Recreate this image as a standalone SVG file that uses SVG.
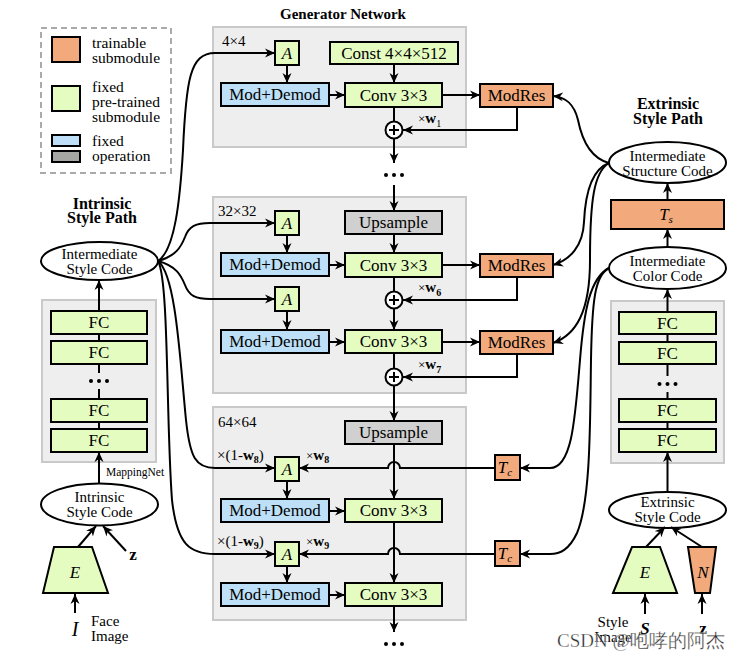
<svg xmlns="http://www.w3.org/2000/svg" width="743" height="658" viewBox="0 0 743 658">
<defs>
<marker id="ah" viewBox="0 0 10 10" refX="10" refY="5" markerWidth="10" markerHeight="10" markerUnits="userSpaceOnUse" orient="auto"><path d="M0,0.5 L10,5 L0,9.5 L3,5 z" fill="#000"/></marker>
</defs>
<style>
text{font-family:'Liberation Serif','Times New Roman',serif;fill:#000}
.b{stroke:#000;stroke-width:2}
.or{fill:#f2aa7c}
.gr{fill:#e4fcc0}
.bl{fill:#bde0f8}
.gy{fill:#d0d0d0}
.lg{fill:#a6a6a2}
.panel{fill:#eeeeee;stroke:#c9c9c9;stroke-width:2}
.lbl{font-size:17px;text-anchor:middle}
.sm{font-size:15px}
.leg{font-size:15.5px}
.el{fill:#fff;stroke:#000;stroke-width:2}
.et{font-size:15px;text-anchor:middle}
.hd{font-size:16px;font-weight:bold;text-anchor:middle}
.it{font-style:italic}
.bd{font-weight:bold}
.c{fill:none;stroke:#000;stroke-width:2}
.a{marker-end:url(#ah)}
.dot{fill:#000}
</style>
<rect width="743" height="658" fill="#fff"/>

<g id="legend">
<rect x="41" y="28" width="130" height="145" fill="none" stroke="#aaa" stroke-width="2" stroke-dasharray="6,4"/>
<rect x="52" y="37" width="28" height="25" class="or b"/>
<text x="92" y="48" class="leg">trainable</text>
<text x="92" y="63" class="leg">submodule</text>
<rect x="52" y="86" width="28" height="25" class="gr b"/>
<text x="92" y="92" class="leg">fixed</text>
<text x="92" y="107" class="leg">pre-trained</text>
<text x="92" y="122" class="leg">submodule</text>
<rect x="52" y="135" width="28" height="11" class="bl b"/>
<rect x="52" y="151" width="28" height="11" class="lg b"/>
<text x="92" y="146" class="leg">fixed</text>
<text x="92" y="161" class="leg">operation</text>
</g>

<text x="343" y="19" font-size="15" font-weight="bold" text-anchor="middle">Generator Network</text>

<g id="block1">
<rect x="213" y="27" width="253" height="120" class="panel"/>
<text x="222" y="46" class="sm">4×4</text>
<rect x="275" y="41" width="24" height="24" class="gr b"/>
<text x="287" y="59" class="lbl it">A</text>
<rect x="330" y="42" width="128" height="22" class="gr b"/>
<text x="394" y="59" class="lbl">Const 4×4×512</text>
<rect x="221" y="83" width="108" height="23" class="bl b"/>
<text x="275" y="100" class="lbl">Mod+Demod</text>
<rect x="345" y="83" width="97" height="24" class="gr b"/>
<text x="393.5" y="101" class="lbl">Conv 3×3</text>
<circle cx="394" cy="130" r="8.5" fill="#fff" class="b"/>
<path d="M389,130 H399 M394,125 V135" class="c" stroke-width="1.3"/>
<text x="418" y="123" font-size="13">×<tspan font-weight="bold" font-size="15">w</tspan><tspan font-size="10" dy="4">1</tspan></text>
</g>
<g id="modres1">
<rect x="480" y="84" width="73" height="23" class="or b"/>
<text x="516.5" y="101" class="lbl">ModRes</text>
</g>

<g id="block2">
<rect x="213" y="197" width="253" height="196" class="panel"/>
<text x="218" y="216" class="sm">32×32</text>
<rect x="275" y="211" width="24" height="24" class="gr b"/>
<text x="287" y="229" class="lbl it">A</text>
<rect x="345" y="211" width="97" height="23" class="gy b"/>
<text x="393.5" y="228" class="lbl">Upsample</text>
<rect x="221" y="253" width="108" height="23" class="bl b"/>
<text x="275" y="270" class="lbl">Mod+Demod</text>
<rect x="345" y="253" width="97" height="24" class="gr b"/>
<text x="393.5" y="271" class="lbl">Conv 3×3</text>
<circle cx="394" cy="300" r="8.5" fill="#fff" class="b"/>
<path d="M389,300 H399 M394,295 V305" class="c" stroke-width="1.3"/>
<text x="418" y="292" font-size="13">×<tspan font-weight="bold" font-size="15">w</tspan><tspan font-size="10" dy="4" font-weight="bold">6</tspan></text>
<rect x="275" y="287" width="24" height="24" class="gr b"/>
<text x="287" y="305" class="lbl it">A</text>
<rect x="221" y="330" width="108" height="23" class="bl b"/>
<text x="275" y="347" class="lbl">Mod+Demod</text>
<rect x="345" y="330" width="97" height="23" class="gr b"/>
<text x="393.5" y="347" class="lbl">Conv 3×3</text>
<circle cx="394" cy="377" r="8.5" fill="#fff" class="b"/>
<path d="M389,377 H399 M394,372 V382" class="c" stroke-width="1.3"/>
<text x="418" y="369" font-size="13">×<tspan font-weight="bold" font-size="15">w</tspan><tspan font-size="10" dy="4" font-weight="bold">7</tspan></text>
</g>
<g id="modres2">
<rect x="480" y="254" width="73" height="23" class="or b"/>
<text x="516.5" y="271" class="lbl">ModRes</text>
</g>
<g id="modres3">
<rect x="480" y="331" width="73" height="23" class="or b"/>
<text x="516.5" y="348" class="lbl">ModRes</text>
</g>

<g id="block3">
<rect x="213" y="407" width="253" height="213" class="panel"/>
<text x="218" y="427" class="sm">64×64</text>
<rect x="345" y="421" width="97" height="23" class="gy b"/>
<text x="393.5" y="438" class="lbl">Upsample</text>
<text x="217" y="460" font-size="15">×(1-<tspan font-weight="bold">w</tspan><tspan font-size="10" dy="3" font-weight="bold">8</tspan><tspan dy="-3">)</tspan></text>
<text x="306" y="460" font-size="13">×<tspan font-weight="bold" font-size="15">w</tspan><tspan font-size="10" dy="3" font-weight="bold">8</tspan></text>
<rect x="275" y="457" width="24" height="24" class="gr b"/>
<text x="287" y="475" class="lbl it">A</text>
<rect x="221" y="499" width="108" height="23" class="bl b"/>
<text x="275" y="516" class="lbl">Mod+Demod</text>
<rect x="345" y="499" width="97" height="23" class="gr b"/>
<text x="393.5" y="516" class="lbl">Conv 3×3</text>
<text x="217" y="546" font-size="15">×(1-<tspan font-weight="bold">w</tspan><tspan font-size="10" dy="3" font-weight="bold">9</tspan><tspan dy="-3">)</tspan></text>
<text x="306" y="546" font-size="13">×<tspan font-weight="bold" font-size="15">w</tspan><tspan font-size="10" dy="3" font-weight="bold">9</tspan></text>
<rect x="275" y="542" width="24" height="24" class="gr b"/>
<text x="287" y="560" class="lbl it">A</text>
<rect x="221" y="583" width="108" height="23" class="bl b"/>
<text x="275" y="600" class="lbl">Mod+Demod</text>
<rect x="345" y="583" width="97" height="23" class="gr b"/>
<text x="393.5" y="600" class="lbl">Conv 3×3</text>
</g>
<g id="tc1">
<rect x="495" y="455" width="25" height="25" class="or b"/>
<text x="505" y="473" class="lbl it" font-size="16">T<tspan font-size="11" dy="3">c</tspan></text>
</g>
<g id="tc2">
<rect x="495" y="541" width="25" height="25" class="or b"/>
<text x="505" y="559" class="lbl it" font-size="16">T<tspan font-size="11" dy="3">c</tspan></text>
</g>

<g id="intrinsic-path">
<text x="102" y="209" class="hd">Intrinsic</text>
<text x="102" y="223" class="hd">Style Path</text>
</g>
<g id="intermediate-style-code">
<ellipse cx="99.5" cy="261" rx="58.5" ry="19" class="el"/>
<text x="99.5" y="259" class="et">Intermediate</text>
<text x="99.5" y="274" class="et">Style Code</text>
</g>
<g id="mapping-net">
<rect x="42" y="300" width="114" height="162" class="panel"/>
<rect x="51" y="311" width="96" height="23" class="gr b"/>
<text x="99" y="328" class="lbl">FC</text>
<rect x="51" y="341" width="96" height="23" class="gr b"/>
<text x="99" y="358" class="lbl">FC</text>
<circle cx="91" cy="381" r="2" class="dot"/><circle cx="99" cy="381" r="2" class="dot"/><circle cx="107" cy="381" r="2" class="dot"/>
<rect x="51" y="399" width="96" height="23" class="gr b"/>
<text x="99" y="416" class="lbl">FC</text>
<rect x="51" y="429" width="96" height="23" class="gr b"/>
<text x="99" y="446" class="lbl">FC</text>
<path d="M99,334 V341 M99,364 V373 M99,389 V399 M99,422 V429" class="c"/>
<text x="106" y="476" font-size="11.5">MappingNet</text>
</g>
<g id="intrinsic-style-code">
<ellipse cx="99.5" cy="504.5" rx="58.5" ry="21" class="el"/>
<text x="99.5" y="502" class="et">Intrinsic</text>
<text x="99.5" y="517" class="et">Style Code</text>
</g>
<g id="encoder-left">
<polygon points="54,547 92,547 108,593 43,593" class="gr b"/>
<text x="75" y="578" class="lbl it">E</text>
</g>
<text x="133" y="560" font-size="17" font-weight="bold" text-anchor="middle">z</text>
<text x="75" y="636" font-size="20" font-style="italic" text-anchor="middle">I</text>
<text x="91" y="626" font-size="15">Face</text>
<text x="91" y="641" font-size="15">Image</text>

<g id="extrinsic-path">
<text x="668" y="109" class="hd">Extrinsic</text>
<text x="668" y="124" class="hd">Style Path</text>
</g>
<g id="structure-code">
<ellipse cx="667.5" cy="162.5" rx="58.5" ry="20.5" class="el"/>
<text x="667.5" y="161" class="et">Intermediate</text>
<text x="667.5" y="176" class="et">Structure Code</text>
</g>
<g id="ts">
<rect x="611" y="200" width="113" height="29" class="or b"/>
<text x="666" y="220" class="lbl it">T<tspan font-size="11" dy="3">s</tspan></text>
</g>
<g id="color-code">
<ellipse cx="667.5" cy="268" rx="58.5" ry="21" class="el"/>
<text x="667.5" y="266" class="et">Intermediate</text>
<text x="667.5" y="281" class="et">Color Code</text>
</g>
<g id="mapping-net-right">
<rect x="611" y="301" width="113" height="162" class="panel"/>
<rect x="619" y="312" width="97" height="22" class="gr b"/>
<text x="667.5" y="329" class="lbl">FC</text>
<rect x="619" y="342" width="97" height="22" class="gr b"/>
<text x="667.5" y="359" class="lbl">FC</text>
<circle cx="659.5" cy="384" r="2" class="dot"/><circle cx="667.5" cy="384" r="2" class="dot"/><circle cx="675.5" cy="384" r="2" class="dot"/>
<rect x="619" y="399" width="97" height="23" class="gr b"/>
<text x="667.5" y="416" class="lbl">FC</text>
<rect x="619" y="429" width="97" height="23" class="gr b"/>
<text x="667.5" y="446" class="lbl">FC</text>
<path d="M667.5,334 V342 M667.5,364 V376 M667.5,392 V399 M667.5,422 V429" class="c"/>
</g>
<g id="extrinsic-style-code">
<ellipse cx="667.5" cy="510" rx="58.5" ry="18" class="el"/>
<text x="667.5" y="507" class="et">Extrinsic</text>
<text x="667.5" y="522" class="et">Style Code</text>
</g>
<g id="encoder-right">
<polygon points="632,547 660,547 677,593 613,593" class="gr b"/>
<text x="645" y="578" class="lbl it">E</text>
</g>
<g id="noise-net">
<polygon points="688,547 716,547 710,593 695,593" class="or b"/>
<text x="703" y="578" class="lbl it">N</text>
</g>
<text x="613" y="627" font-size="15" text-anchor="middle">Style</text>
<text x="613" y="642" font-size="15" text-anchor="middle">Image</text>
<text x="645" y="634" font-size="17" font-weight="bold" font-style="italic" text-anchor="middle">S</text>
<text x="703" y="634" font-size="17" font-weight="bold" text-anchor="middle">z</text>

<g id="connectors">
<!-- block1 -->
<path d="M287,65 V83" class="c a"/>
<path d="M329,95 H345" class="c a"/>
<path d="M394,64 V83" class="c a"/>
<path d="M442,95 H480" class="c a"/>
<path d="M394,107 V121.5" class="c"/>
<path d="M517,107 V130 H403" class="c a"/>
<path d="M394,138.5 V163" class="c a"/>
<circle cx="386" cy="175" r="2" class="dot"/><circle cx="394" cy="175" r="2" class="dot"/><circle cx="402" cy="175" r="2" class="dot"/>
<path d="M394,185 V211" class="c a"/>
<!-- block2 -->
<path d="M287,235 V253" class="c a"/>
<path d="M329,265 H345" class="c a"/>
<path d="M394,234 V253" class="c a"/>
<path d="M442,265 H480" class="c a"/>
<path d="M394,277 V291.5" class="c"/>
<path d="M517,277 V300 H403" class="c a"/>
<path d="M394,308.5 V330" class="c a"/>
<path d="M287,311 V330" class="c a"/>
<path d="M329,342 H345" class="c a"/>
<path d="M442,342 H480" class="c a"/>
<path d="M394,353 V368.5" class="c"/>
<path d="M517,354 V377 H403" class="c a"/>
<path d="M394,385.5 V421" class="c a"/>
<!-- block3 -->
<path d="M394,444 V499" class="c a"/>
<path d="M287,481 V499" class="c a"/>
<path d="M329,511 H345" class="c a"/>
<path d="M394,522 V583" class="c a"/>
<path d="M287,566 V583" class="c a"/>
<path d="M329,595 H345" class="c a"/>
<path d="M394,606 V632" class="c a"/>
<circle cx="386" cy="644" r="2" class="dot"/><circle cx="394" cy="644" r="2" class="dot"/><circle cx="402" cy="644" r="2" class="dot"/>
<path d="M495,468 H400 A6,6 0 0 0 388,468 H299" class="c a"/>
<path d="M495,554 H400 A6,6 0 0 0 388,554 H299" class="c a"/>
<!-- intrinsic style code fan-out -->
<path d="M158,261 C175,250 180,200 183,150 C186,80 190,53 215,53 L275,53" class="c a"/>
<path d="M158,261 C176,256 181,247 185,237 C189,226 196,223 210,223 L275,223" class="c a"/>
<path d="M158,261 C176,266 181,275 185,285 C189,296 196,299 210,299 L275,299" class="c a"/>
<path d="M158,261 C176,275 180,360 186,420 C190,458 196,468 215,468 L275,468" class="c a"/>
<path d="M158,261 C169,280 166,420 172,500 C177,545 190,554 215,554 L275,554" class="c a"/>
<!-- left column -->
<path d="M99,311 V280" class="c a"/>
<path d="M99,483 V452" class="c a"/>
<path d="M78,547 L96,526" class="c a"/>
<path d="M126,551 L103,526" class="c a"/>
<path d="M75,613 V594" class="c a"/>
<!-- right column -->
<path d="M609,163 C590,158 582,140 578,120 C574,104 566,97 553,96" class="c a"/>
<path d="M609,163 C590,170 585,200 584,222 C583,246 570,260 553,265" class="c a"/>
<path d="M609,163 C594,172 590,200 590,260 C590,312 576,335 553,343" class="c a"/>
<path d="M609,268 C590,278 584,310 580,360 C575,420 572,468 550,468 L520,468" class="c a"/>
<path d="M609,268 C595,275 592,300 591,360 C590,420 591,500 577,533 C569,550 560,554 550,554 L520,554" class="c a"/>
<path d="M667.5,247 V229" class="c a"/>
<path d="M667.5,200 V183" class="c a"/>
<path d="M667.5,312 V289" class="c a"/>
<path d="M667.5,492 V452" class="c a"/>
<path d="M646,547 L665,527" class="c a"/>
<path d="M702,547 L671,527" class="c a"/>
<path d="M645,614 V594" class="c a"/>
<path d="M702,614 V594" class="c a"/>
</g>

<text x="557" y="647" font-family="'Noto Sans','Noto Sans CJK SC',sans-serif" font-size="19" fill="#999" fill-opacity="0.85" stroke="#fff" stroke-width="0.6" stroke-opacity="0.6">CSDN @咆哮的阿杰</text>
</svg>
